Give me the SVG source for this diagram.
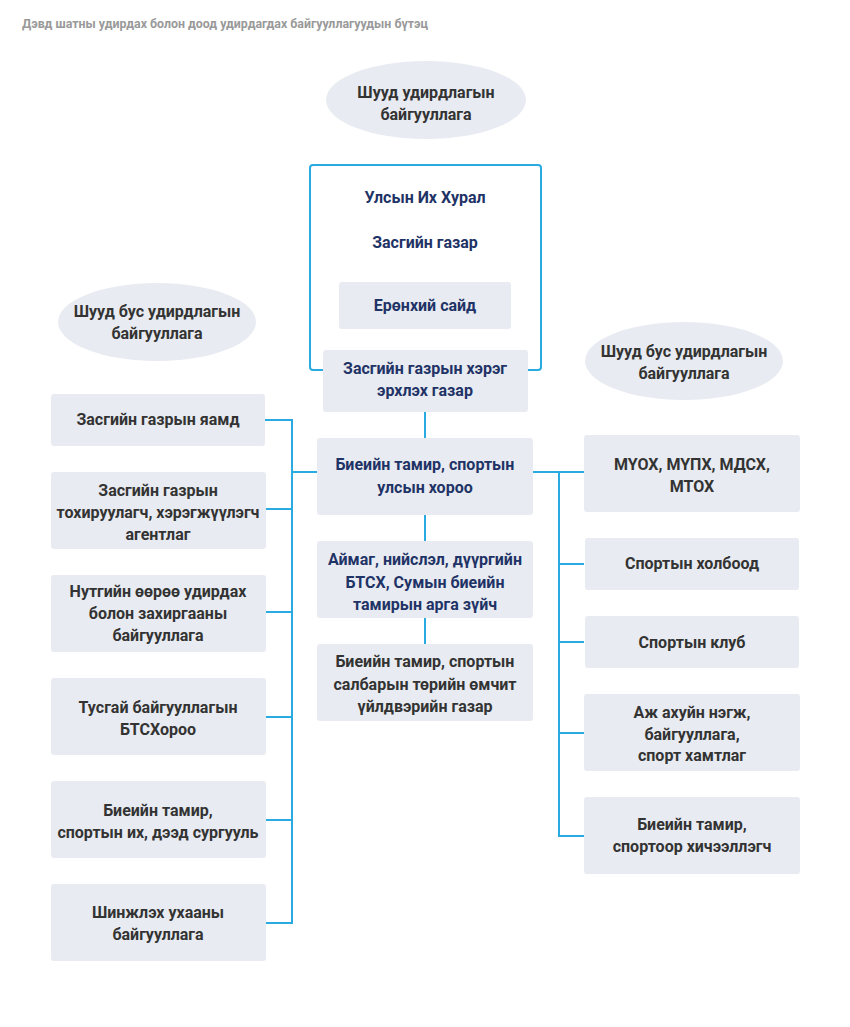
<svg xmlns="http://www.w3.org/2000/svg" width="850" height="1027" viewBox="0 0 850 1027">
<style>
.bg{fill:#ffffff}
.box{fill:#e8ebf1}
.frame{fill:none;stroke:#29abe2;stroke-width:2}
.ln{fill:none;stroke:#29abe2;stroke-width:2}
text{font-family:Roboto,"Liberation Sans",sans-serif;font-weight:bold;font-size:16px;text-anchor:middle}
.d{fill:#333333}
.n{fill:#1f3366}
.title{fill:#999999;font-size:12.5px;text-anchor:start}
</style>
<rect class="bg" x="0" y="0" width="850" height="1027"/>
<text class="title" x="22" y="28" textLength="406" lengthAdjust="spacingAndGlyphs">Дэвд шатны удирдах болон доод удирдагдах байгууллагуудын бүтэц</text>

<g id="connectors">
<line class="ln" x1="425" y1="412" x2="425" y2="438"/>
<line class="ln" x1="425" y1="515" x2="425" y2="541"/>
<line class="ln" x1="425" y1="618" x2="425" y2="644"/>
<polyline class="ln" points="265,420 292,420 292,923 265,923"/>
<line class="ln" x1="265" y1="509" x2="292" y2="509"/>
<line class="ln" x1="265" y1="612" x2="292" y2="612"/>
<line class="ln" x1="265" y1="717" x2="292" y2="717"/>
<line class="ln" x1="265" y1="820" x2="292" y2="820"/>
<line class="ln" x1="292" y1="472" x2="317" y2="472"/>
<line class="ln" x1="533" y1="472" x2="584" y2="472"/>
<polyline class="ln" points="559,472 559,836 584,836"/>
<line class="ln" x1="559" y1="564" x2="584" y2="564"/>
<line class="ln" x1="559" y1="642" x2="584" y2="642"/>
<line class="ln" x1="559" y1="733" x2="584" y2="733"/>
</g>

<g id="label-top">
<ellipse class="box" cx="426" cy="100" rx="100" ry="39"/>
<text class="d" x="426" y="98">Шууд удирдлагын</text>
<text class="d" x="426" y="120">байгууллага</text>
</g>
<g id="label-left">
<ellipse class="box" cx="157" cy="322" rx="99" ry="39"/>
<text class="d" x="157" y="317">Шууд бус удирдлагын</text>
<text class="d" x="157" y="339">байгууллага</text>
</g>
<g id="label-right">
<ellipse class="box" cx="684" cy="361" rx="99" ry="39"/>
<text class="d" x="684" y="357">Шууд бус удирдлагын</text>
<text class="d" x="684" y="379">байгууллага</text>
</g>

<g id="government">
<rect class="frame" x="310" y="165" width="231" height="205" rx="3"/>
<text class="n" x="425" y="203">Улсын Их Хурал</text>
<text class="n" x="425" y="248">Засгийн газар</text>
</g>
<g id="pm">
<rect class="box" x="339" y="282" width="172" height="47" rx="3"/>
<text class="n" x="425" y="311">Ерөнхий сайд</text>
</g>
<g id="cabinet-office">
<rect class="box" x="323" y="350" width="205" height="62" rx="3"/>
<text class="n" x="425" y="374">Засгийн газрын хэрэг</text>
<text class="n" x="425" y="396">эрхлэх газар</text>
</g>

<g id="committee">
<rect class="box" x="317" y="438" width="216" height="77" rx="3"/>
<text class="n" x="425" y="470">Биеийн тамир, спортын</text>
<text class="n" x="425" y="493">улсын хороо</text>
</g>
<g id="local">
<rect class="box" x="317" y="541" width="216" height="77" rx="3"/>
<text class="n" x="425" y="565">Аймаг, нийслэл, дүүргийн</text>
<text class="n" x="425" y="588">БТСХ, Сумын биеийн</text>
<text class="n" x="425" y="610">тамирын арга зүйч</text>
</g>
<g id="enterprise">
<rect class="box" x="317" y="644" width="216" height="77" rx="3"/>
<text class="d" x="425" y="667">Биеийн тамир, спортын</text>
<text class="d" x="425" y="690">салбарын төрийн өмчит</text>
<text class="d" x="425" y="712">үйлдвэрийн газар</text>
</g>

<g id="ministry">
<rect class="box" x="51" y="394" width="214" height="52" rx="3"/>
<text class="d" x="158" y="425">Засгийн газрын яамд</text>
</g>
<g id="agency">
<rect class="box" x="51" y="472" width="215" height="77" rx="3"/>
<text class="d" x="158" y="496">Засгийн газрын</text>
<text class="d" x="158" y="518">тохируулагч, хэрэгжүүлэгч</text>
<text class="d" x="158" y="540">агентлаг</text>
</g>
<g id="local-gov">
<rect class="box" x="51" y="575" width="215" height="77" rx="3"/>
<text class="d" x="158" y="597">Нутгийн өөрөө удирдах</text>
<text class="d" x="158" y="619">болон захиргааны</text>
<text class="d" x="158" y="641">байгууллага</text>
</g>
<g id="special">
<rect class="box" x="51" y="678" width="215" height="77" rx="3"/>
<text class="d" x="158" y="713">Тусгай байгууллагын</text>
<text class="d" x="158" y="735">БТСХороо</text>
</g>
<g id="university">
<rect class="box" x="51" y="781" width="215" height="77" rx="3"/>
<text class="d" x="158" y="816">Биеийн тамир,</text>
<text class="d" x="158" y="838">спортын их, дээд сургууль</text>
</g>
<g id="science">
<rect class="box" x="51" y="884" width="215" height="77" rx="3"/>
<text class="d" x="158" y="918">Шинжлэх ухааны</text>
<text class="d" x="158" y="940">байгууллага</text>
</g>

<g id="olympic">
<rect class="box" x="584" y="435" width="216" height="77" rx="3"/>
<text class="d" x="692" y="470">МҮОХ, МҮПХ, МДСХ,</text>
<text class="d" x="692" y="492">МТОХ</text>
</g>
<g id="federation">
<rect class="box" x="585" y="538" width="214" height="52" rx="3"/>
<text class="d" x="692" y="569">Спортын холбоод</text>
</g>
<g id="club">
<rect class="box" x="585" y="616" width="214" height="52" rx="3"/>
<text class="d" x="692" y="648">Спортын клуб</text>
</g>
<g id="business">
<rect class="box" x="584" y="694" width="216" height="77" rx="3"/>
<text class="d" x="692" y="718">Аж ахуйн нэгж,</text>
<text class="d" x="692" y="740">байгууллага,</text>
<text class="d" x="692" y="761">спорт хамтлаг</text>
</g>
<g id="athletes">
<rect class="box" x="584" y="797" width="216" height="77" rx="3"/>
<text class="d" x="692" y="830">Биеийн тамир,</text>
<text class="d" x="692" y="852">спортоор хичээллэгч</text>
</g>
</svg>
